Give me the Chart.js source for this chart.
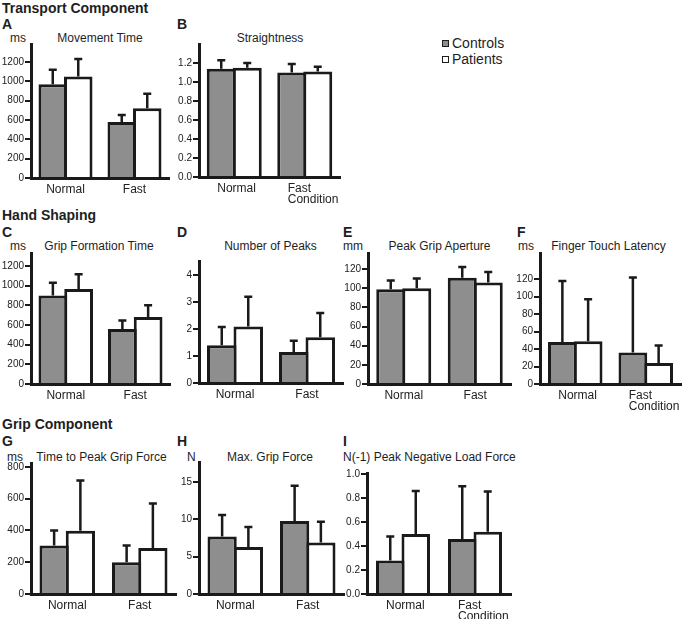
<!DOCTYPE html>
<html><head><meta charset="utf-8">
<script src="https://cdn.jsdelivr.net/npm/chart.js@4.4.1/dist/chart.umd.min.js"></script>
<style>
html,body{margin:0;padding:0;background:#fff;overflow:hidden;}
#page{position:relative;width:685px;height:619px;overflow:hidden;font-family:"Liberation Sans",Arial,Helvetica,sans-serif;color:#1e1e1e;}
.t{position:absolute;white-space:nowrap;}
.h{font-weight:bold;font-size:14px;line-height:14px;}
.s{font-size:12px;line-height:12px;}
.c{width:200px;text-align:center;}
.lg{font-size:14px;line-height:14px;}
.sw{position:absolute;width:5px;height:5px;border:1.5px solid #1e1e1e;}
canvas{position:absolute;}
</style></head><body><div id="page"></div>
<script>
// ---------- data ----------
const seriesNames = ['Controls', 'Patients'];
const conditions = ['Normal', 'Fast'];
const conditionsLong = ['Normal', ['Fast', 'Condition']];

// A Movement Time (ms)
const movementTimeControls = [970, 580];
const movementTimeControlsSD = [150, 70];
const movementTimePatients = [1050, 720];
const movementTimePatientsSD = [180, 150];
const movementTimeTicks = [0, 200, 400, 600, 800, 1000, 1200];

// B Straightness
const straightnessControls = [1.14, 1.10];
const straightnessControlsSD = [0.09, 0.09];
const straightnessPatients = [1.15, 1.11];
const straightnessPatientsSD = [0.05, 0.05];
const straightnessTicks = [0, 0.2, 0.4, 0.6, 0.8, 1.0, 1.2];

// C Grip Formation Time (ms)
const gripFormationControls = [900, 560];
const gripFormationControlsSD = [130, 85];
const gripFormationPatients = [965, 680];
const gripFormationPatientsSD = [150, 120];
const gripFormationTicks = [0, 200, 400, 600, 800, 1000, 1200];

// D Number of Peaks
const peaksControls = [1.4, 1.15];
const peaksControlsSD = [0.68, 0.42];
const peaksPatients = [2.1, 1.7];
const peaksPatientsSD = [1.1, 0.9];
const peaksTicks = [0, 1, 2, 3, 4];

// E Peak Grip Aperture (mm)
const apertureControls = [99, 111];
const apertureControlsSD = [9, 11];
const aperturePatients = [100, 106];
const aperturePatientsSD = [10, 11];
const apertureTicks = [0, 20, 40, 60, 80, 100, 120];

// F Finger Touch Latency (ms)
const latencyControls = [48, 36];
const latencyControlsSD = [70, 86];
const latencyPatients = [49, 24];
const latencyPatientsSD = [48, 20];
const latencyTicks = [0, 20, 40, 60, 80, 100, 120];

// G Time to Peak Grip Force (ms)
const peakGripTimeControls = [305, 200];
const peakGripTimeControlsSD = [95, 105];
const peakGripTimePatients = [398, 290];
const peakGripTimePatientsSD = [317, 280];
const peakGripTimeTicks = [0, 200, 400, 600, 800];

// H Max. Grip Force (N)
const maxGripControls = [7.7, 9.8];
const maxGripControlsSD = [2.9, 4.7];
const maxGripPatients = [6.3, 6.9];
const maxGripPatientsSD = [2.7, 2.8];
const maxGripTicks = [0, 5, 10, 15];

// I Peak Negative Load Force (N(-1))
const loadForceControls = [0.28, 0.46];
const loadForceControlsSD = [0.20, 0.44];
const loadForcePatients = [0.50, 0.52];
const loadForcePatientsSD = [0.36, 0.335];
const loadForceTicks = [0, 0.2, 0.4, 0.6, 0.8, 1.0];

// ---------- panels ----------
const panels = [
  {key:'A', labels:conditions, c:movementTimeControls, cs:movementTimeControlsSD, p:movementTimePatients, ps:movementTimePatientsSD, ticks:movementTimeTicks, max:1385, dec:0},
  {key:'B', labels:conditionsLong, c:straightnessControls, cs:straightnessControlsSD, p:straightnessPatients, ps:straightnessPatientsSD, ticks:straightnessTicks, max:1.4, dec:1},
  {key:'C', labels:conditions, c:gripFormationControls, cs:gripFormationControlsSD, p:gripFormationPatients, ps:gripFormationPatientsSD, ticks:gripFormationTicks, max:1332, dec:0},
  {key:'D', labels:conditions, c:peaksControls, cs:peaksControlsSD, p:peaksPatients, ps:peaksPatientsSD, ticks:peaksTicks, max:4.53, dec:0},
  {key:'E', labels:conditions, c:apertureControls, cs:apertureControlsSD, p:aperturePatients, ps:aperturePatientsSD, ticks:apertureTicks, max:136.7, dec:0},
  {key:'F', labels:conditionsLong, c:latencyControls, cs:latencyControlsSD, p:latencyPatients, ps:latencyPatientsSD, ticks:latencyTicks, max:150, dec:0},
  {key:'G', labels:conditions, c:peakGripTimeControls, cs:peakGripTimeControlsSD, p:peakGripTimePatients, ps:peakGripTimePatientsSD, ticks:peakGripTimeTicks, max:825, dec:0},
  {key:'H', labels:conditions, c:maxGripControls, cs:maxGripControlsSD, p:maxGripPatients, ps:maxGripPatientsSD, ticks:maxGripTicks, max:17.7, dec:0},
  {key:'I', labels:conditionsLong, c:loadForceControls, cs:loadForceControlsSD, p:loadForcePatients, ps:loadForcePatientsSD, ticks:loadForceTicks, max:1.01, dec:1}
];

// ---------- layout (pixels) ----------
const layouts = {
  A:{left:31, right:169, top:44, bottom:178, group:54},
  B:{left:199, right:340, top:44, bottom:177, group:55, align:'start', labelOffset:-17},
  C:{left:31, right:170, top:253, bottom:384, group:54.5},
  D:{left:199, right:343, top:261, bottom:383, group:56},
  E:{left:368, right:511, top:253, bottom:384, group:55},
  F:{left:540, right:681, top:253, bottom:384, group:54.5, align:'start', labelOffset:-17},
  G:{left:31, right:176, top:463, bottom:594, group:55.5},
  H:{left:199, right:344, top:462, bottom:594, group:55.5},
  I:{left:367, right:511, top:473, bottom:594, group:54, align:'start', labelOffset:-17}
};

const texts = [
  {cls:'h', x:2, y:1, s:'Transport Component'},
  {cls:'h', x:2, y:208, s:'Hand Shaping'},
  {cls:'h', x:2, y:417, s:'Grip Component'},
  {cls:'h', x:2, y:17, s:'A'}, {cls:'h', x:177, y:17, s:'B'},
  {cls:'h', x:2, y:225, s:'C'}, {cls:'h', x:177, y:225, s:'D'}, {cls:'h', x:343, y:225, s:'E'}, {cls:'h', x:517, y:225, s:'F'},
  {cls:'h', x:2, y:433.5, s:'G'}, {cls:'h', x:177, y:433.5, s:'H'}, {cls:'h', x:343, y:433.5, s:'I'},
  {cls:'s c', x:0, y:32.3, s:'Movement Time'},
  {cls:'s c', x:170, y:32.3, s:'Straightness'},
  {cls:'s c', x:-1, y:240.3, s:'Grip Formation Time'},
  {cls:'s c', x:170.5, y:240.3, s:'Number of Peaks'},
  {cls:'s c', x:339.5, y:240.3, s:'Peak Grip Aperture'},
  {cls:'s c', x:508.5, y:240.3, s:'Finger Touch Latency'},
  {cls:'s c', x:1.5, y:450.8, s:'Time to Peak Grip Force'},
  {cls:'s c', x:170, y:450.8, s:'Max. Grip Force'},
  {cls:'s', x:10, y:32.3, s:'ms'},
  {cls:'s', x:10, y:240.3, s:'ms'},
  {cls:'s', x:343, y:240.3, s:'mm'},
  {cls:'s', x:518, y:240.3, s:'ms'},
  {cls:'s', x:7, y:450.8, s:'ms'},
  {cls:'s', x:187, y:450.8, s:'N'},
  {cls:'s', x:343, y:450.8, s:'N(-1) Peak Negative Load Force'}
];

// ---------- styles ----------
const GRAY = '#8e8e8e', INK = '#1a1a1a', TXT = '#222222';
const FONT = '"Liberation Sans", Arial, Helvetica, sans-serif';
const YW = 31, PT = 12, PR = 36, XH = 36;
Chart.defaults.font.family = FONT;
Chart.defaults.color = TXT;

const page = document.getElementById('page');
texts.forEach(t => {
  const d = document.createElement('div');
  d.className = 't ' + t.cls;
  d.style.left = t.x + 'px'; d.style.top = t.y + 'px';
  d.textContent = t.s;
  page.appendChild(d);
});

// legend
const legendPos = [{x:442, y:40, ty:36.2}, {x:442, y:56, ty:52.2}];
[GRAY, '#ffffff'].forEach((col, i) => {
  const sw = document.createElement('div');
  sw.className = 'sw';
  sw.style.left = legendPos[i].x + 'px'; sw.style.top = legendPos[i].y + 'px';
  sw.style.background = col;
  page.appendChild(sw);
  const d = document.createElement('div');
  d.className = 't lg';
  d.style.left = (legendPos[i].x + 10) + 'px'; d.style.top = legendPos[i].ty + 'px';
  d.textContent = seriesNames[i];
  page.appendChild(d);
});

const errorBars = {
  id: 'errorBars',
  afterDatasetsDraw(chart) {
    const ctx = chart.ctx, ys = chart.scales.y;
    chart.data.datasets.forEach((ds, di) => {
      const meta = chart.getDatasetMeta(di);
      meta.data.forEach((bar, i) => {
        const top = ys.getPixelForValue(ds.data[i] + ds.sd[i]);
        ctx.save();
        ctx.strokeStyle = INK; ctx.lineWidth = 2.5; ctx.lineCap = 'butt';
        ctx.beginPath();
        ctx.moveTo(bar.x, bar.y); ctx.lineTo(bar.x, top);
        ctx.moveTo(bar.x - 4, top); ctx.lineTo(bar.x + 4, top);
        ctx.stroke();
        ctx.restore();
      });
    });
  }
};

panels.forEach(p => {
  const L = layouts[p.key];
  const plotW = L.right - L.left, plotH = L.bottom - L.top;
  const w = plotW + YW + PR, h = plotH + PT + XH;
  const cv = document.createElement('canvas');
  cv.width = w; cv.height = h;
  cv.style.left = (L.left - YW) + 'px'; cv.style.top = (L.top - PT) + 'px';
  cv.style.width = w + 'px'; cv.style.height = h + 'px';
  page.appendChild(cv);
  const cat = plotW / 2;
  const slot = (L.group - 3) / 2;
  const cp = 2 * slot / cat, bp = (slot + 3) / slot;
  const mk = (label, data, sd, bg) => ({label, data, sd, backgroundColor: bg, borderColor: INK, borderWidth: 3,
    inflateAmount: 0, categoryPercentage: cp, barPercentage: bp});
  new Chart(cv, {
    type: 'bar',
    data: { labels: p.labels, datasets: [
      mk(seriesNames[0], p.c, p.cs, GRAY),
      mk(seriesNames[1], p.p, p.ps, '#ffffff')
    ]},
    options: {
      responsive: false, animation: false, devicePixelRatio: 1,
      layout: { padding: { left: 0, top: PT, right: PR, bottom: 0 } },
      plugins: { legend: {display: false}, tooltip: {enabled: false}, title: {display: false} },
      scales: {
        x: {
          afterFit(s) { s.height = XH; },
          grid: { display: false, drawTicks: false },
          border: { display: true, width: 3, color: INK },
          ticks: { font: {size: 12, family: FONT, lineHeight: 0.85}, color: TXT, padding: 7, align: L.align || 'center',
                   labelOffset: L.labelOffset || 0, maxRotation: 0, autoSkip: false }
        },
        y: {
          min: 0, max: p.max,
          afterFit(s) { s.width = YW; },
          afterBuildTicks(s) { s.ticks = p.ticks.map(v => ({value: v})); },
          grid: { drawOnChartArea: false, drawTicks: true, tickLength: 6, lineWidth: 2, color: INK, tickColor: INK },
          border: { display: true, width: 3, color: INK },
          ticks: { font: {size: 10, family: FONT}, color: TXT, padding: 1,
                   callback: v => Number(v).toFixed(p.dec) }
        }
      }
    },
    plugins: [errorBars]
  });
});
</script></body></html>
